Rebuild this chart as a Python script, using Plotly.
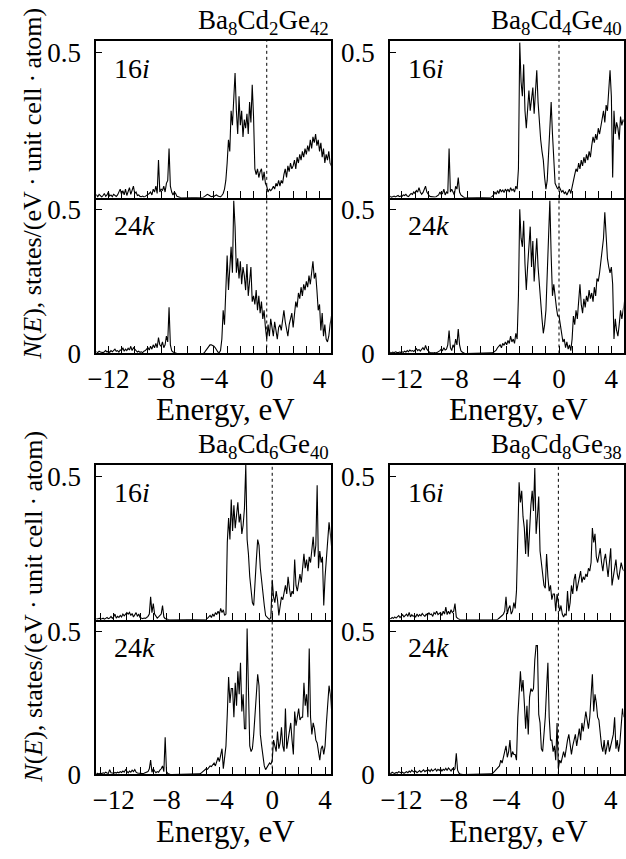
import numpy as np
import plotly.graph_objects as go

# Energy grid (eV), 0.1 eV step
energy = np.round(np.arange(-14.0, 5.0001, 0.1), 1)

compounds = ["Ba<sub>8</sub>Cd<sub>2</sub>Ge<sub>42</sub>",
             "Ba<sub>8</sub>Cd<sub>4</sub>Ge<sub>40</sub>",
             "Ba<sub>8</sub>Cd<sub>6</sub>Ge<sub>40</sub>",
             "Ba<sub>8</sub>Cd<sub>8</sub>Ge<sub>38</sub>"]
sites = ["16<i>i</i>", "24<i>k</i>"]
x_tick_vals = [-12, -8, -4, 0, 4]
x_tick_text = ["\u221212", "\u22128", "\u22124", "0", "4"]
y_tick_vals_top = [0.5]
y_tick_text_top = ["0.5"]
y_tick_vals_bot = [0, 0.5]
y_tick_text_bot = ["0", "0.5"]

# Ba8Cd2Ge42, 16i
dos_cd2_16i = [
    0.004, 0.008, 0.003, 0.006, 0.01, 0.005, 0.003, 0.007, 0.004, 0.006,
    0.005, 0.01, 0.004, 0.012, 0.006, 0.003, 0.008, 0.015, 0.005, 0.01,
    0.02, 0.006, 0.01, 0.004, 0.012, 0.008, 0.005, 0.01, 0.018, 0.03,
    0.012, 0.025, 0.01, 0.03, 0.008, 0.02, 0.035, 0.012, 0.028, 0.04,
    0.015, 0.02, 0.008, 0.01, 0.005, 0.004, 0.006, 0.003, 0.005, 0.008,
    0.01, 0.015, 0.02, 0.01, 0.03, 0.02, 0.04, 0.015, 0.13, 0.02,
    0.03, 0.025, 0.04, 0.02, 0.05, 0.06, 0.17, 0.04, 0.02, 0.01,
    0.02, 0.015, 0.005, 0.003, 0.002, 0, 0, 0, 0, 0,
    0, 0, 0, 0, 0, 0, 0, 0, 0, 0,
    0, 0, 0.002, 0.005, 0.008, 0.012, 0.01, 0.006, 0.004, 0.005,
    0.005, 0.008, 0.01, 0.006, 0.004, 0.003, 0.008, 0.015, 0.03, 0.06,
    0.12, 0.2, 0.16, 0.3, 0.25, 0.37, 0.43, 0.3, 0.22, 0.35,
    0.25, 0.3, 0.21, 0.27, 0.24, 0.29, 0.22, 0.33, 0.26, 0.39,
    0.28, 0.1, 0.08, 0.1, 0.07, 0.09, 0.1, 0.06, 0.09, 0.05,
    0.04, 0.02, 0.03, 0.025, 0.03, 0.04, 0.03, 0.05, 0.04, 0.06,
    0.04, 0.06, 0.05, 0.08, 0.1, 0.07, 0.11, 0.09, 0.12, 0.1,
    0.11, 0.13, 0.1, 0.14, 0.12, 0.15, 0.13, 0.16, 0.14, 0.17,
    0.15, 0.18, 0.16, 0.2, 0.17, 0.21, 0.19, 0.22, 0.18, 0.2,
    0.16, 0.19, 0.14, 0.17, 0.12, 0.15, 0.13, 0.16, 0.12, 0.11,
    0.1]

# Ba8Cd2Ge42, 24k
dos_cd2_24k = [
    0.003, 0.005, 0.002, 0.004, 0.006, 0.003, 0.005, 0.004, 0.002, 0.005,
    0.004, 0.006, 0.003, 0.008, 0.005, 0.004, 0.003, 0.006, 0.01, 0.005,
    0.008, 0.004, 0.01, 0.006, 0.012, 0.015, 0.008, 0.01, 0.005, 0.012,
    0.01, 0.02, 0.008, 0.015, 0.01, 0.018, 0.012, 0.025, 0.01, 0.02,
    0.015, 0.01, 0.005, 0.008, 0.004, 0.006, 0.003, 0.008, 0.01, 0.015,
    0.02, 0.012, 0.025, 0.015, 0.03, 0.02, 0.035, 0.02, 0.055, 0.03,
    0.025, 0.04, 0.02, 0.03, 0.06, 0.04, 0.16, 0.03, 0.01, 0.005,
    0.003, 0.002, 0, 0, 0, 0, 0, 0, 0, 0,
    0, 0, 0, 0, 0, 0, 0, 0, 0, 0,
    0, 0, 0, 0.005, 0.012, 0.02, 0.026, 0.03, 0.03, 0.028,
    0.025, 0.02, 0.012, 0.005, 0.003, 0.01, 0.05, 0.15, 0.1, 0.26,
    0.34, 0.22, 0.3, 0.37, 0.28, 0.53, 0.44, 0.28, 0.33, 0.26,
    0.32, 0.24, 0.3, 0.27, 0.22, 0.31, 0.2, 0.25, 0.3, 0.18,
    0.2, 0.17, 0.22, 0.15, 0.2, 0.14, 0.18, 0.12, 0.15, 0.09,
    0.05, 0.1, 0.06, 0.12, 0.08, 0.06, 0.11, 0.07, 0.05, 0.09,
    0.1, 0.08, 0.12, 0.15, 0.11, 0.08, 0.06, 0.1, 0.12, 0.14,
    0.09, 0.15, 0.18, 0.16, 0.21, 0.19, 0.23, 0.2, 0.24, 0.22,
    0.25, 0.23, 0.27, 0.24, 0.29, 0.32, 0.26, 0.28, 0.22, 0.15,
    0.17, 0.08, 0.14, 0.06, 0.1, 0.05, 0.04, 0.06, 0.1, 0.13,
    0.12]

# Ba8Cd4Ge40, 16i
dos_cd4_16i = [
    0.002, 0.004, 0.003, 0.005, 0.002, 0.004, 0.003, 0.002, 0.004, 0.003,
    0.003, 0.005, 0.002, 0.004, 0.006, 0.003, 0.005, 0.008, 0.004, 0.006,
    0.005, 0.01, 0.008, 0.012, 0.006, 0.004, 0.01, 0.015, 0.012, 0.02,
    0.015, 0.025, 0.02, 0.035, 0.02, 0.012, 0.018, 0.03, 0.04, 0.02,
    0.01, 0.006, 0.004, 0.003, 0.002, 0.003, 0.004, 0.006, 0.01, 0.02,
    0.012, 0.015, 0.03, 0.01, 0.02, 0.015, 0.17, 0.02, 0.03, 0.02,
    0.01, 0.04, 0.03, 0.07, 0.02, 0.01, 0.005, 0.003, 0, 0,
    0, 0, 0, 0, 0, 0, 0, 0, 0, 0,
    0, 0, 0, 0, 0, 0, 0, 0, 0.002, 0.005,
    0.01, 0.02, 0.012, 0.025, 0.015, 0.03, 0.02, 0.028, 0.018, 0.03,
    0.022, 0.03, 0.02, 0.035, 0.025, 0.03, 0.02, 0.04, 0.03, 0.1,
    0.535, 0.4, 0.35, 0.46, 0.3, 0.24, 0.3, 0.37, 0.3, 0.35,
    0.38, 0.29, 0.35, 0.44, 0.33, 0.24, 0.2, 0.16, 0.13, 0.07,
    0.03, 0.06, 0.14, 0.25, 0.33, 0.22, 0.12, 0.05, 0.04, 0.03,
    0.04, 0.03, 0.02, 0.025, 0.015, 0.02, 0.01, 0.02, 0.03, 0.015,
    0.04, 0.06, 0.08, 0.1, 0.09, 0.12, 0.1, 0.13, 0.11, 0.14,
    0.12, 0.15, 0.13, 0.16, 0.14, 0.18, 0.21, 0.19, 0.22, 0.2,
    0.24, 0.22, 0.25, 0.28, 0.3, 0.26, 0.32, 0.3, 0.38, 0.44,
    0.35, 0.07, 0.3, 0.22, 0.26, 0.24, 0.2, 0.28, 0.25, 0.27,
    0.26]

# Ba8Cd4Ge40, 24k
dos_cd4_24k = [
    0.002, 0.003, 0.004, 0.002, 0.003, 0.005, 0.002, 0.004, 0.003, 0.002,
    0.003, 0.004, 0.002, 0.005, 0.003, 0.006, 0.004, 0.003, 0.005, 0.004,
    0.006, 0.004, 0.008, 0.005, 0.01, 0.006, 0.012, 0.008, 0.01, 0.007,
    0.012, 0.017, 0.01, 0.014, 0.008, 0.015, 0.02, 0.012, 0.028, 0.015,
    0.008, 0.004, 0.002, 0.001, 0.002, 0.003, 0.002, 0.004, 0.006, 0.01,
    0.015, 0.01, 0.02, 0.012, 0.015, 0.03, 0.08, 0.02, 0.01, 0.03,
    0.02, 0.05, 0.03, 0.085, 0.03, 0.01, 0.005, 0.002, 0, 0,
    0, 0, 0, 0, 0, 0, 0, 0, 0, 0,
    0, 0, 0, 0, 0, 0, 0, 0, 0, 0.002,
    0.004, 0.008, 0.012, 0.02, 0.025, 0.03, 0.02, 0.035, 0.028, 0.04,
    0.03, 0.045, 0.035, 0.06, 0.04, 0.05, 0.035, 0.07, 0.05, 0.2,
    0.5, 0.4, 0.37, 0.46, 0.31, 0.22, 0.3, 0.38, 0.44, 0.3,
    0.39, 0.25, 0.33, 0.4, 0.3, 0.23, 0.17, 0.12, 0.07, 0.1,
    0.15, 0.29, 0.4, 0.53, 0.34, 0.2, 0.24, 0.19, 0.16, 0.13,
    0.13, 0.1, 0.07, 0.04, 0.05, 0.02, 0.04, 0.015, 0.03, 0.01,
    0.05, 0.13, 0.1, 0.15, 0.12, 0.2, 0.24, 0.17, 0.14, 0.19,
    0.16, 0.2, 0.18, 0.22, 0.19, 0.21, 0.18, 0.23, 0.2, 0.26,
    0.25, 0.28, 0.32, 0.35, 0.4, 0.49, 0.38, 0.33, 0.3, 0.28,
    0.3, 0.24, 0.05, 0.12, 0.08, 0.06, 0.1, 0.15, 0.12, 0.16,
    0.18]

# Ba8Cd6Ge40, 16i
dos_cd6_16i = [
    0.003, 0.005, 0.002, 0.004, 0.003, 0.006, 0.002, 0.004, 0.003, 0.005,
    0.004, 0.003, 0.006, 0.002, 0.005, 0.008, 0.004, 0.006, 0.012, 0.005,
    0.01, 0.02, 0.006, 0.012, 0.008, 0.015, 0.01, 0.02, 0.014, 0.022,
    0.025, 0.02, 0.026, 0.015, 0.022, 0.01, 0.018, 0.025, 0.012, 0.02,
    0.008, 0.005, 0.004, 0.006, 0.005, 0.008, 0.012, 0.02, 0.08, 0.025,
    0.057, 0.02, 0.01, 0.006, 0.01, 0.015, 0.02, 0.05, 0.01, 0.004,
    0.002, 0.001, 0, 0, 0, 0, 0, 0, 0, 0,
    0, 0, 0, 0, 0, 0, 0, 0, 0, 0,
    0, 0, 0, 0, 0, 0, 0, 0, 0, 0,
    0.002, 0.005, 0.01, 0.015, 0.008, 0.02, 0.012, 0.025, 0.018, 0.03,
    0.02, 0.04, 0.025, 0.035, 0.015, 0.02, 0.27, 0.355, 0.28, 0.42,
    0.31, 0.4, 0.32, 0.38, 0.41, 0.34, 0.37, 0.3, 0.33, 0.39,
    0.54, 0.28, 0.23, 0.15, 0.11, 0.06, 0.05, 0.15, 0.21, 0.28,
    0.26, 0.18, 0.13, 0.09, 0.05, 0.015, 0.01, 0.005, 0, 0.01,
    0.14, 0.08, 0.06, 0.1, 0.07, 0.015, 0.05, 0.08, 0.07, 0.1,
    0.12, 0.09, 0.15, 0.11, 0.08, 0.1, 0.09, 0.21, 0.12, 0.1,
    0.14, 0.16, 0.13, 0.19, 0.23, 0.18, 0.21, 0.17, 0.22, 0.2,
    0.24, 0.29, 0.22, 0.26, 0.47, 0.18, 0.24, 0.2, 0.22, 0.05,
    0.15, 0.22, 0.28, 0.34, 0.3, 0.25, 0.2, 0.18, 0.2, 0.22,
    0.2]

# Ba8Cd6Ge40, 24k
dos_cd6_24k = [
    0.002, 0.004, 0.003, 0.005, 0.002, 0.004, 0.006, 0.003, 0.004, 0.002,
    0.005, 0.003, 0.006, 0.004, 0.008, 0.005, 0.004, 0.017, 0.006, 0.005,
    0.004, 0.007, 0.005, 0.008, 0.006, 0.01, 0.007, 0.012, 0.008, 0.017,
    0.01, 0.006, 0.012, 0.008, 0.015, 0.01, 0.017, 0.008, 0.005, 0.004,
    0.003, 0.002, 0.003, 0.004, 0.006, 0.008, 0.01, 0.02, 0.05, 0.008,
    0.02, 0.012, 0.006, 0.01, 0.008, 0.015, 0.02, 0.03, 0.01, 0.13,
    0.01, 0.003, 0.001, 0, 0, 0, 0, 0, 0, 0,
    0, 0, 0, 0, 0, 0, 0, 0, 0, 0,
    0, 0, 0, 0, 0, 0.002, 0.004, 0.008, 0.012, 0.015,
    0.02, 0.018, 0.025, 0.03, 0.028, 0.035, 0.04, 0.03, 0.045, 0.06,
    0.045, 0.07, 0.09, 0.02, 0.06, 0.1, 0.21, 0.34, 0.25, 0.3,
    0.3, 0.2, 0.32, 0.24, 0.36, 0.28, 0.39, 0.22, 0.28, 0.16,
    0.16, 0.51, 0.3, 0.1, 0.08, 0.09, 0.14, 0.2, 0.28, 0.35,
    0.31, 0.14, 0.1, 0.06, 0.03, 0.017, 0.025, 0.03, 0.04, 0.035,
    0.05, 0.12, 0.1, 0.08, 0.15, 0.09, 0.11, 0.165, 0.1, 0.08,
    0.23, 0.09, 0.12, 0.15, 0.18, 0.12, 0.07, 0.22, 0.17, 0.2,
    0.23, 0.19, 0.2, 0.2, 0.32, 0.24, 0.28, 0.2, 0.44, 0.2,
    0.14, 0.18, 0.16, 0.12, 0.11, 0.08, 0.05, 0.09, 0.1, 0.07,
    0.1, 0.18, 0.25, 0.31, 0.28, 0.22, 0.2, 0.18, 0.2, 0.22,
    0.2]

# Ba8Cd8Ge38, 16i
dos_cd8_16i = [
    0.002, 0.004, 0.003, 0.002, 0.005, 0.003, 0.004, 0.002, 0.003, 0.004,
    0.003, 0.005, 0.004, 0.008, 0.005, 0.01, 0.006, 0.012, 0.015, 0.008,
    0.012, 0.018, 0.01, 0.015, 0.02, 0.012, 0.026, 0.01, 0.018, 0.012,
    0.015, 0.01, 0.02, 0.012, 0.018, 0.014, 0.022, 0.016, 0.012, 0.02,
    0.015, 0.025, 0.018, 0.02, 0.012, 0.025, 0.02, 0.03, 0.018, 0.022,
    0.025, 0.015, 0.03, 0.02, 0.044, 0.018, 0.03, 0.02, 0.035, 0.025,
    0.03, 0.057, 0.01, 0.005, 0.002, 0, 0, 0, 0, 0,
    0, 0, 0, 0, 0, 0, 0, 0, 0, 0,
    0, 0, 0, 0, 0, 0, 0, 0, 0, 0,
    0, 0, 0, 0, 0.003, 0.006, 0.01, 0.015, 0.02, 0.03,
    0.08, 0.02, 0.04, 0.05, 0.02, 0.03, 0.06, 0.04, 0.1, 0.3,
    0.48, 0.41, 0.45, 0.36, 0.32, 0.23, 0.35, 0.22, 0.32, 0.4,
    0.45, 0.38, 0.53, 0.3, 0.36, 0.43, 0.24, 0.2, 0.14, 0.12,
    0.11, 0.23, 0.15, 0.1, 0.12, 0.07, 0.09, 0.09, 0.03, 0.09,
    0.06, 0.03, 0.05, 0.02, 0.01, 0.02, 0.015, 0.1, 0.03, 0.06,
    0.12, 0.09, 0.14, 0.16, 0.1, 0.12, 0.15, 0.17, 0.13, 0.15,
    0.14, 0.16, 0.15, 0.18, 0.17, 0.2, 0.32, 0.27, 0.3, 0.22,
    0.2, 0.22, 0.25, 0.2, 0.17, 0.21, 0.23, 0.19, 0.15, 0.2,
    0.25, 0.12, 0.15, 0.18, 0.21, 0.16, 0.14, 0.17, 0.2, 0.18,
    0.17]

# Ba8Cd8Ge38, 24k
dos_cd8_24k = [
    0.002, 0.003, 0.002, 0.004, 0.003, 0.002, 0.004, 0.003, 0.002, 0.003,
    0.004, 0.006, 0.003, 0.008, 0.005, 0.004, 0.007, 0.005, 0.01, 0.006,
    0.005, 0.008, 0.004, 0.007, 0.01, 0.006, 0.012, 0.008, 0.015, 0.01,
    0.008, 0.012, 0.006, 0.01, 0.014, 0.008, 0.012, 0.016, 0.01, 0.014,
    0.012, 0.016, 0.01, 0.018, 0.012, 0.015, 0.02, 0.012, 0.018, 0.014,
    0.02, 0.012, 0.018, 0.015, 0.022, 0.014, 0.023, 0.018, 0.012, 0.02,
    0.015, 0.02, 0.074, 0.015, 0.005, 0.002, 0, 0, 0, 0,
    0, 0, 0, 0, 0, 0, 0, 0, 0, 0,
    0, 0, 0, 0, 0, 0, 0, 0, 0, 0.002,
    0.005, 0.01, 0.015, 0.02, 0.025, 0.03, 0.05, 0.04, 0.06, 0.08,
    0.1, 0.06, 0.08, 0.12, 0.06, 0.08, 0.07, 0.07, 0.05, 0.2,
    0.3, 0.36, 0.29, 0.33, 0.25, 0.16, 0.24, 0.14, 0.27, 0.3,
    0.29, 0.3, 0.4, 0.45, 0.45, 0.21, 0.18, 0.09, 0.08, 0.14,
    0.2, 0.3, 0.39, 0.2, 0.12, 0.12, 0.08, 0.1, 0.05, 0.18,
    0.02, 0.05, 0.04, 0.06, 0.08, 0.06, 0.1, 0.12, 0.14, 0.1,
    0.07, 0.1, 0.12, 0.14, 0.1, 0.13, 0.16, 0.12, 0.18, 0.15,
    0.18, 0.22, 0.19, 0.16, 0.2, 0.27, 0.35, 0.22, 0.28, 0.25,
    0.2, 0.19, 0.14, 0.1, 0.08, 0.12, 0.07, 0.09, 0.12, 0.08,
    0.1, 0.12, 0.14, 0.2, 0.09, 0.12, 0.08, 0.11, 0.18, 0.23,
    0.2]

W, H = 626, 859
FONT = "Liberation Serif"


def px_x(p):
    return p / W


def px_y(p):
    return 1 - p / H


col_dom = [[px_x(88), px_x(326.5)], [px_x(387), px_x(624.5)]]
# (group, sub) -> pixel top/bottom
row_px = {(0, 0): (39, 199), (0, 1): (199, 358),
          (1, 0): (472, 630), (1, 1): (630, 788)}
x_ranges = {(0, 0): [-12.9, 4.85], (0, 1): [-12.9, 4.93],
            (1, 0): [-13.3, 4.43], (1, 1): [-12.85, 4.98]}

panels = [
    (dos_cd2_16i, 0, 0, 0), (dos_cd2_24k, 0, 0, 1),
    (dos_cd4_16i, 1, 0, 0), (dos_cd4_24k, 1, 0, 1),
    (dos_cd6_16i, 0, 1, 0), (dos_cd6_24k, 0, 1, 1),
    (dos_cd8_16i, 1, 1, 0), (dos_cd8_24k, 1, 1, 1),
]

fig = go.Figure()
layout = dict(width=W, height=H, margin=dict(l=0, r=0, t=0, b=0),
              paper_bgcolor="white", plot_bgcolor="white", showlegend=False,
              font=dict(family=FONT, color="black", size=26))
shapes = []
annotations = []
tickfont = dict(family=FONT, size=27, color="black")

for k, (vals, col, grp, sub) in enumerate(panels):
    i = k + 1
    xn = "x" if i == 1 else f"x{i}"
    yn = "y" if i == 1 else f"y{i}"
    fig.add_trace(go.Scatter(x=energy, y=vals, mode="lines",
                             line=dict(color="black", width=1.1),
                             xaxis=xn, yaxis=yn, hoverinfo="skip"))
    top, bot = row_px[(grp, sub)]
    layout["xaxis" if i == 1 else f"xaxis{i}"] = dict(
        domain=col_dom[col], anchor=yn, range=x_ranges[(grp, col)],
        showline=True, linecolor="black", linewidth=2,
        mirror=(sub == 0),
        ticks="inside", ticklen=7, tickwidth=1.2, tickcolor="black",
        tickmode="array", tickvals=x_tick_vals, ticktext=x_tick_text,
        showticklabels=(sub == 1), tickfont=tickfont, ticklabelstandoff=0,
        minor=dict(tickmode="linear", tick0=0, dtick=1, ticks="inside",
                   ticklen=7, tickwidth=1.2, tickcolor="black"),
        showgrid=False, zeroline=False)
    layout["yaxis" if i == 1 else f"yaxis{i}"] = dict(
        domain=[px_y(bot), px_y(top)], anchor=xn, range=[0, 0.54],
        showline=True, linecolor="black", linewidth=2, mirror=True,
        ticks="inside", ticklen=6, tickwidth=1.2, tickcolor="black",
        tickmode="array",
        tickvals=y_tick_vals_top if sub == 0 else y_tick_vals_bot,
        ticktext=y_tick_text_top if sub == 0 else y_tick_text_bot,
        tickfont=tickfont, ticklabelstandoff=8,
        showgrid=False, zeroline=False)
    shapes.append(dict(type="line", xref=xn, yref=f"{yn} domain",
                       x0=0, x1=0, y0=0, y1=1,
                       line=dict(color="black", width=1, dash="dot")))
    # site label
    annotations.append(dict(text=sites[sub], xref="paper", yref="paper",
                            x=col_dom[col][0] + px_x(16), y=px_y(top + 28),
                            xanchor="left", yanchor="middle", showarrow=False,
                            font=dict(family=FONT, size=28, color="black")))

# compound titles
title_y = [19, 452]
for c, name in enumerate(compounds):
    col = c % 2
    grp = c // 2
    annotations.append(dict(text=name, xref="paper", yref="paper",
                            x=col_dom[col][1], y=px_y(title_y[grp]),
                            xanchor="right", yanchor="middle", showarrow=False,
                            font=dict(family=FONT, size=27, color="black")))

# x-axis titles
for grp, yc in enumerate([415, 846]):
    for col, xc in enumerate([219, 518]):
        annotations.append(dict(text="Energy, eV", xref="paper", yref="paper",
                                x=px_x(xc), y=px_y(yc), xanchor="center",
                                yanchor="middle", showarrow=False,
                                font=dict(family=FONT, size=31, color="black")))

# y-axis titles
ytitle = "<i>N</i>(<i>E</i>), states/(eV\u2009·\u2009unit cell\u2009·\u2009atom)"
for yc in [185, 617]:
    annotations.append(dict(text=ytitle, xref="paper", yref="paper",
                            x=px_x(23), y=px_y(yc), xanchor="center",
                            yanchor="middle", textangle=-90, showarrow=False,
                            font=dict(family=FONT, size=26, color="black")))

layout["shapes"] = shapes
layout["annotations"] = annotations
fig.update_layout(**layout)
fig.write_html("out.html")
